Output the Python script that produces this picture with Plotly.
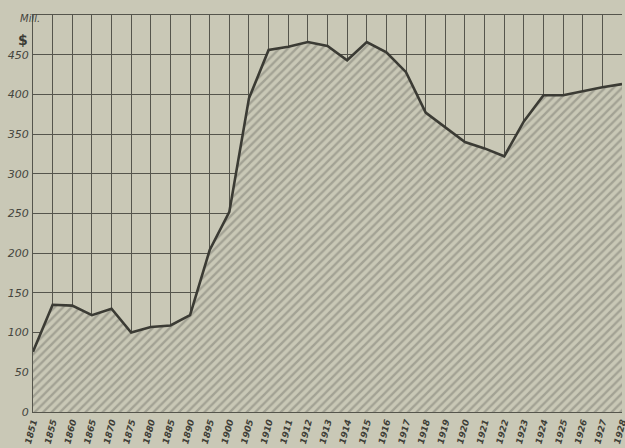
import plotly.graph_objects as go

years = ["1851", "1855", "1860", "1865", "1870", "1875", "1880", "1885", "1890", "1895",
         "1900", "1905", "1910", "1911", "1912", "1913", "1914", "1915", "1916", "1917",
         "1918", "1919", "1920", "1921", "1922", "1923", "1924", "1925", "1926", "1927", "1928"]
values = [76, 135, 134, 122, 130, 100, 107, 109, 122, 204,
          252, 395, 456, 460, 466, 461, 443, 466, 453, 428,
          377, 358, 340, 332, 322, 366, 399, 399, 404, 409, 413]
y_ticks = [0, 50, 100, 150, 200, 250, 300, 350, 400, 450, 500]
y_labels = ["0", "50", "100", "150", "200", "250", "300", "350", "400", "450", ""]

paper = "#c9c8b6"
ink = "#3b3b34"
grid = "#55554c"

L, R, T, B = 33, 3, 15, 36
W, H = 625, 448
plot_w = W - L - R
plot_h = H - T - B


def px_to_paper(px, py):
    return (px - L) / plot_w, 1 - (py - T) / plot_h


fig = go.Figure()
fig.add_trace(go.Scatter(
    x=years, y=values, mode="lines",
    line=dict(color=ink, width=2.6),
    fill="tozeroy",
    fillcolor="rgba(0,0,0,0)",
    fillpattern=dict(shape="/", fgcolor="#7c7b71", bgcolor=paper, size=6, solidity=0.4),
    hoverinfo="skip",
))

mx, my = px_to_paper(19, 12)
sx, sy = px_to_paper(17, 31)
fig.update_layout(
    width=W, height=H,
    margin=dict(l=L, r=R, t=T, b=B, autoexpand=False),
    paper_bgcolor=paper, plot_bgcolor=paper,
    showlegend=False,
    font=dict(family="DejaVu Sans", color="#45453d"),
    annotations=[
        dict(text="Mill.", x=mx, y=my, xref="paper", yref="paper", showarrow=False,
             borderpad=0, font=dict(size=10, style="italic", color="#45453d")),
        dict(text="<b>$</b>", x=sx, y=sy, xref="paper", yref="paper", showarrow=False,
             borderpad=0, font=dict(size=14, color="#3b3b34")),
    ],
)

fig.update_xaxes(
    type="category", range=[0, 30], automargin=False,
    showgrid=True, gridcolor=grid, gridwidth=1,
    tickangle=-75,
    tickfont=dict(size=9, style="italic", weight="bold", color="#3f3f38"),
    showline=True, mirror=True, linecolor=grid, linewidth=1,
    zeroline=False, ticks="", ticklabelstandoff=0,
)
fig.update_yaxes(
    range=[0, 500], automargin=False,
    tickvals=y_ticks, ticktext=y_labels,
    showgrid=True, gridcolor=grid, gridwidth=1,
    tickfont=dict(size=11, style="italic", color="#45453d"),
    showline=True, linecolor=grid, linewidth=1,
    zeroline=False, ticks="", ticklabelstandoff=1,
)

fig.write_html(
    "out.html",
    config={"displayModeBar": False, "staticPlot": True},
    post_script="document.body.style.margin='0px';document.body.style.overflow='hidden';"
                "document.body.style.background='" + paper + "';",
)
